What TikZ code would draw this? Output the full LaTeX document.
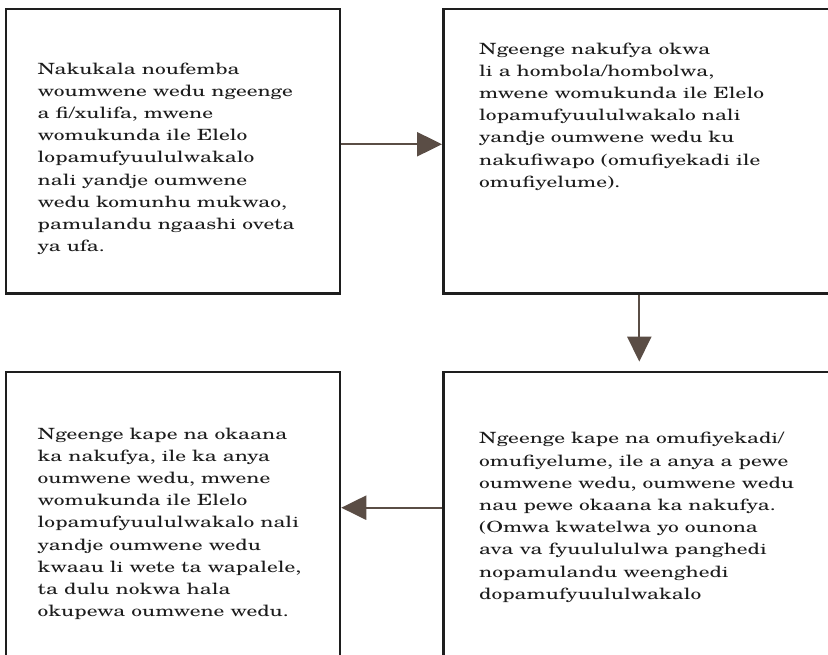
\documentclass[tikz,border=0pt]{standalone}
\usepackage{fontspec}
\setmainfont{TeX Gyre Schola}[FakeStretch=1.39]
\usetikzlibrary{arrows.meta}
\definecolor{boxline}{HTML}{1E1E1E}
\definecolor{arrowcol}{HTML}{5A4D45}
\definecolor{txt}{HTML}{1C1C1C}
\tikzset{
  stagebox/.style={draw=boxline, line width=2.5pt, rectangle, inner sep=0pt},
  stagetext/.style={anchor=base west, align=left, inner sep=0pt, text=txt,
    font=\fontsize{15.5}{22.2}\selectfont},
  flow/.style={draw=arrowcol, line width=2.2pt,
    -{Triangle[length=25pt,width=24pt]}},
}
\begin{document}
\begin{tikzpicture}[x=1pt,y=-1pt]
\useasboundingbox (0,0) rectangle (828,654);
\clip (0,0) rectangle (828,654);
% the four stage boxes
\node[stagebox, minimum width=334pt, minimum height=284.5pt] (tl) at (173,151.25) {};
\node[stagebox, minimum width=392pt, minimum height=284.5pt] (tr) at (639.3,151.25) {};
\node[stagebox, minimum width=334pt, minimum height=300pt] (bl) at (173,521.85) {};
\node[stagebox, minimum width=392pt, minimum height=300pt] (br) at (639.3,521.85) {};
% texts, placed by the baseline of their last line
\node[stagetext] (t1) at (37.5,251.7) {Nakukala noufemba\\woumwene wedu ngeenge\\a fi/xulifa, mwene\\womukunda ile Elelo\\lopamufyuululwakalo\\nali yandje oumwene\\wedu komunhu mukwao,\\pamulandu ngaashi oveta\\ya ufa.};
\node[stagetext] (t2) at (479,187.3) {Ngeenge nakufya okwa\\li a hombola/hombolwa,\\mwene womukunda ile Elelo\\lopamufyuululwakalo nali\\yandje oumwene wedu ku\\nakufiwapo (omufiyekadi ile\\omufiyelume).};
\node[stagetext] (t3) at (37.5,616.7) {Ngeenge kape na okaana\\ka nakufya, ile ka anya\\oumwene wedu, mwene\\womukunda ile Elelo\\lopamufyuululwakalo nali\\yandje oumwene wedu\\kwaau li wete ta wapalele,\\ta dulu nokwa hala\\okupewa oumwene wedu.};
\node[stagetext] (t4) at (479,599.3) {Ngeenge kape na omufiyekadi/\\omufiyelume, ile a anya a pewe\\oumwene wedu, oumwene wedu\\nau pewe okaana ka nakufya.\\(Omwa kwatelwa yo ounona\\ava va fyuulululwa panghedi\\nopamulandu weenghedi\\dopamufyuululwakalo};
% connectors
\draw[flow] ([yshift=7pt]tl.east) -- ([yshift=7pt]tr.west);
\draw[flow, shorten >=9pt] (tr.south) -- (br.north);
\draw[flow] ([yshift=14.15pt]br.west) -- ([yshift=14.15pt]bl.east);
\end{tikzpicture}
\end{document}
